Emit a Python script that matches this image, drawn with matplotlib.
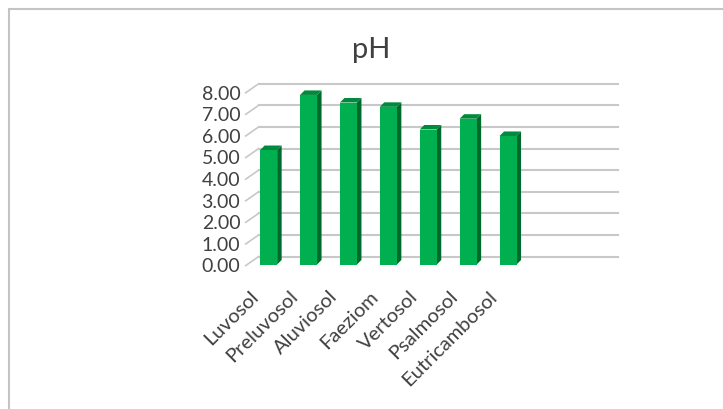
import matplotlib.pyplot as plt
from matplotlib.patches import Polygon, Rectangle
import numpy as np

# Data
soils = ["Luvosol", "Preluvosol", "Aluviosol", "Faeziom", "Vertosol",
         "Psalmosol", "Eutricambosol"]
ph_values = [5.30, 7.85, 7.50, 7.30, 6.25, 6.75, 5.95]
y_ticks = [0, 1, 2, 3, 4, 5, 6, 7, 8]
n_slots = 9  # Excel category axis leaves two empty slots on the right

W, H = 723, 410
fig = plt.figure(figsize=(W / 100, H / 100), dpi=100)
plt.rcParams['font.family'] = ['Lato', 'DejaVu Sans']
text_col = "#404040"

# axes in pixel geometry: front face plane
x0_px, y0_px = 248.7, 265.5       # left edge / zero line (from top)
slot_px, unit_px = 39.9, 21.6
ax = fig.add_axes([x0_px / W, (H - y0_px) / H,
                   n_slots * slot_px / W, 8 * unit_px / H])
ax.set_xlim(-0.5, n_slots - 0.5)
ax.set_ylim(0, 8)
for s in ax.spines.values():
    s.set_visible(False)
ax.set_xticks([])
ax.set_yticks(y_ticks)
ax.set_yticklabels([f"{v:.2f}" for v in y_ticks], fontsize=14, color=text_col)
ax.tick_params(axis="y", length=0, pad=6)

px = 1 / slot_px   # one pixel in x data units
py = 1 / unit_px   # one pixel in y data units

# back wall gridlines and left floor diagonals
grid_col = "#c8c8c8"
bx, by = 10 * px, 8 * py
for v in y_ticks:
    ax.plot([-0.5 + bx, n_slots - 0.5 + bx], [v + by, v + by],
            color=grid_col, lw=1.5, clip_on=False, zorder=1)
    ax.plot([-0.5 - 3 * px, -0.5 + bx], [v - 0.05, v + by],
            color=grid_col, lw=1.2, clip_on=False, zorder=1)

# pseudo-3D bars
bw = 17 * px
dx, dy = 4.5 * px, 4.5 * py
front_col, side_col, top_col = "#00b050", "#006a2c", "#008a3c"
for i, v in enumerate(ph_values):
    xl, xr = i - bw / 2, i + bw / 2
    ax.add_patch(Polygon([(xr, 0), (xr + dx, dy), (xr + dx, v + dy), (xr, v)],
                         closed=True, fc=side_col, ec="none", zorder=3, clip_on=False))
    ax.add_patch(Polygon([(xl, v), (xl + dx, v + dy), (xr + dx, v + dy), (xr, v)],
                         closed=True, fc=top_col, ec="none", zorder=3, clip_on=False))
    ax.bar(i, v, width=bw, color=front_col, zorder=4)

# category labels, rotated
for i, name in enumerate(soils):
    ax.annotate(name, xy=(i, 0), xycoords="data",
                xytext=(-14, -16), textcoords="offset points",
                rotation=45, rotation_mode="anchor", ha="right", va="top",
                fontsize=14.5, color=text_col, annotation_clip=False)

# title
fig.text(371 / W, 1 - 58 / H, "pH", ha="center", va="baseline",
         fontsize=21, color=text_col)

# chart border (cut off on right and bottom)
fig.patches.append(Rectangle((8.5 / W, -0.1), 1.2, 1.1 - 9.5 / H,
                             transform=fig.transFigure, fill=False,
                             ec="#c4c4c4", lw=1.5))

fig.savefig("out.png", dpi=100)
